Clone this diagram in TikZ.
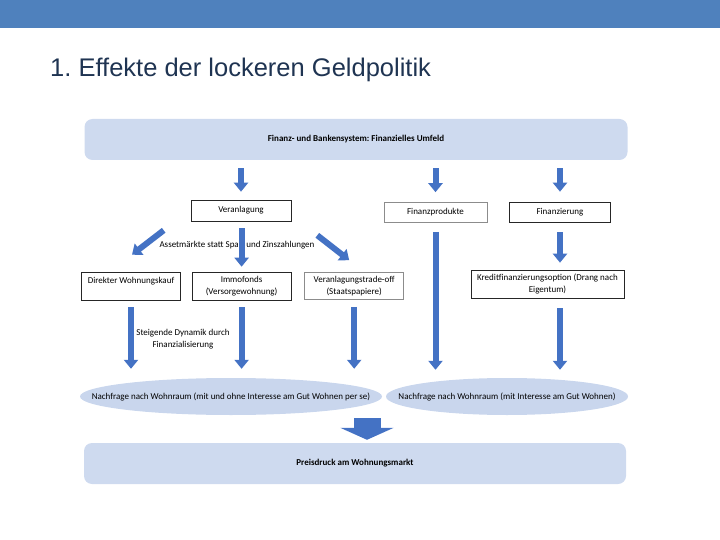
\documentclass[tikz,border=0pt]{standalone}
\usepackage{fontspec}
\setmainfont{Liberation Sans}
\newfontfamily\carlito{Carlito}
\usetikzlibrary{arrows.meta,positioning,shapes.geometric,calc}
\definecolor{BarBlue}{RGB}{79,129,189}
\definecolor{TitleNavy}{RGB}{31,52,82}
\definecolor{PanelBlue}{RGB}{206,218,239}
\definecolor{OvalBlue}{RGB}{201,214,237}
\definecolor{ArrowBlue}{RGB}{68,114,196}
\newcommand{\diagtext}{\carlito\fontsize{9}{11.5}\selectfont}
\frenchspacing
\tikzset{
  panel/.style={fill=PanelBlue,rounded corners=8pt,minimum width=543pt,
    minimum height=41pt,font=\diagtext\bfseries},
  box/.style={draw=black!85,line width=0.6pt,fill=white,align=center,
    font=\diagtext,inner sep=2pt},
  softbox/.style={box,draw=black!45},
  rowbox/.style={box,minimum width=99pt,minimum height=28pt},
  demand/.style={ellipse,fill=OvalBlue,inner sep=0pt,minimum height=37pt},
  note/.style={font=\diagtext,align=center,inner sep=1pt},
  flow/.style={-{Triangle[width=14pt,length=9pt]},line width=6pt,ArrowBlue},
  bigflow/.style={-{Triangle[width=53pt,length=12pt]},line width=27pt,ArrowBlue}
}

\begin{document}
\begin{tikzpicture}[x=1pt,y=-1pt]
  \useasboundingbox (0,0) rectangle (720,540);
  \fill[BarBlue] (0,0) rectangle (720,28);
  \node[anchor=base west,inner sep=0pt,TitleNavy,font=\fontsize{25.5}{30}\selectfont]
    (title) at (50,77) {1. Effekte der lockeren Geldpolitik};

  % Umfeld and first row
  \node[panel] (umfeld) at (356,139.5) {Finanz- und Bankensystem: Finanzielles Umfeld};
  \node[box,minimum width=100pt,minimum height=21pt] (verl) at (241,210.5) {Veranlagung};
  \node[softbox,minimum width=103pt,minimum height=20pt] (fprod) at (435.5,212.5) {Finanzprodukte};
  \node[box,minimum width=101pt,minimum height=20pt] (finz) at (560,212) {Finanzierung};

  % second row
  \node[rowbox] (dwk) at (131,286) {Direkter Wohnungskauf\\\mbox{}};
  \node[rowbox,right=11pt of dwk] (immo) {Immofonds\\(Versorgewohnung)};
  \node[softbox,minimum width=99pt,minimum height=27pt,right=13pt of immo] (trade)
    {Veranlagungstrade-off\\(Staatspapiere)};
  \node[box,minimum width=153pt,minimum height=28pt] (kredit) at (547.5,284)
    {Kreditfinanzierungsoption (Drang nach\\Eigentum)};

  \node[note] (asset) at (237,245) {Assetmärkte statt Spar- und Zinszahlungen};
  \node[note] (dynamik) at (183,339) {Steigende Dynamik durch\\Finanzialisierung};

  % demand and market
  \node[demand,minimum width=302pt,
    label={[font=\diagtext]center:Nachfrage nach Wohnraum (mit und ohne Interesse am Gut Wohnen per se)}]
    (lnach) at (231,396.5) {};
  \node[demand,minimum width=242pt,
    label={[font=\diagtext]center:Nachfrage nach Wohnraum (mit Interesse am Gut Wohnen)}]
    (rnach) at (507,396.5) {};
  \node[panel,minimum width=542pt] (preis) at (355,463.5) {Preisdruck am Wohnungsmarkt};

  % arrows
  \draw[flow,shorten <=8pt,shorten >=8pt] (umfeld.south -| verl.north) -- (verl.north);
  \draw[flow,shorten <=8pt,shorten >=10pt] (umfeld.south -| fprod.north) -- (fprod.north);
  \draw[flow,shorten <=8pt,shorten >=10pt] (umfeld.south -| finz.north) -- (finz.north);
  \draw[flow] ($(verl.south west)+(-27,9)$) -- ($(dwk.north)+(1,-17)$);
  \draw[flow] ($(verl.south east)+(26,14)$) -- ($(trade.north)+(-5,-12)$);
  \draw[flow,shorten <=7pt,shorten >=5pt] (verl.south -| immo.north) -- (immo.north);
  \foreach \n in {dwk,immo,trade}
    \draw[flow,shorten <=7pt,shorten >=9pt] (\n.south) -- (\n.south |- lnach.north);
  \draw[flow,shorten <=9pt,shorten >=8pt] (fprod.south) -- (fprod.south |- rnach.north);
  \draw[flow,shorten <=10pt,shorten >=7pt] (finz.south) -- (finz.south |- kredit.north);
  \draw[flow,shorten <=10pt,shorten >=8pt] (kredit.south -| finz.south) -- (finz.south |- rnach.north);
  \draw[bigflow,shorten <=3pt,shorten >=3pt] ($(lnach.south -| preis.north)+(12,0)$)
    -- ($(preis.north)+(12,0)$);
\end{tikzpicture}
\end{document}
